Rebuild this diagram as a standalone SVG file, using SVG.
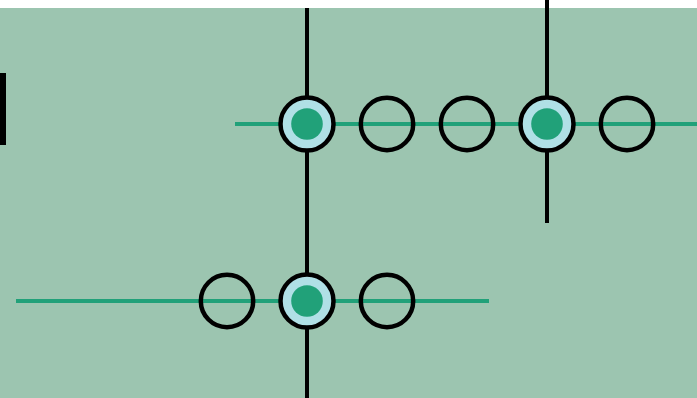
<svg xmlns="http://www.w3.org/2000/svg" width="697" height="398" viewBox="0 0 697 398">
<style>
.bg{fill:#9cc5b0}
.h{stroke:#21a179;stroke-width:4;fill:none}
.v{stroke:#000;stroke-width:4;fill:none}
.ring{fill:none;stroke:#000;stroke-width:4.5}
.sel{fill:#b0e0e6;stroke:#000;stroke-width:4.5}
.dot{fill:#21a179}
</style>
<rect x="0" y="0" width="697" height="398" fill="#ffffff"/>
<rect class="bg" x="0" y="8" width="697" height="390"/>
<rect x="0" y="73" width="6" height="72" fill="#000"/>
<g id="connectors">
<line class="h" x1="235" y1="124" x2="697" y2="124"/>
<line class="h" x1="16" y1="301" x2="489" y2="301"/>
<line class="v" x1="307" y1="8" x2="307" y2="398"/>
<line class="v" x1="547" y1="0" x2="547" y2="223"/>
</g>
<g id="n1"><circle class="sel" cx="307" cy="124" r="26.5"/><circle class="dot" cx="307" cy="124" r="15.8"/></g>
<g id="n2"><circle class="ring" cx="387" cy="124" r="26.2"/></g>
<g id="n3"><circle class="ring" cx="467" cy="124" r="26.2"/></g>
<g id="n4"><circle class="sel" cx="547" cy="124" r="26.5"/><circle class="dot" cx="547" cy="124" r="15.8"/></g>
<g id="n5"><circle class="ring" cx="627" cy="124" r="26.2"/></g>
<g id="n6"><circle class="ring" cx="227" cy="301" r="26.2"/></g>
<g id="n7"><circle class="sel" cx="307" cy="301" r="26.5"/><circle class="dot" cx="307" cy="301" r="15.8"/></g>
<g id="n8"><circle class="ring" cx="387" cy="301" r="26.2"/></g>
</svg>
